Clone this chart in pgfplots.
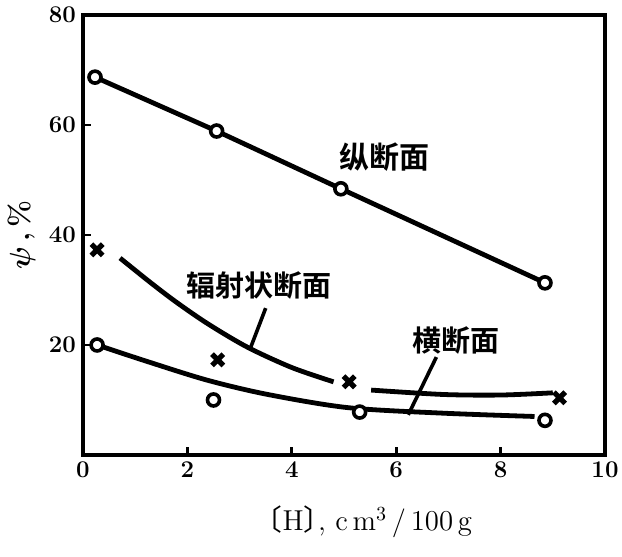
\documentclass[border=0pt]{standalone}
\usepackage{pgfplots}
\pgfplotsset{compat=1.18}
\usetikzlibrary{calc}
\usepackage{fontspec}
\newfontfamily\cjk{Noto Sans CJK SC Bold}
\newfontfamily\cjkr{Noto Sans CJK SC}
\begin{document}
\begin{tikzpicture}
\begin{axis}[
  scale only axis, width=261pt, height=220pt,
  xmin=0, xmax=10, ymin=0, ymax=80,
  xtick={0,2,4,6,8,10}, ytick={20,40,60,80},
  tick pos=left, tick align=inside, major tick length=4pt,
  axis line style={line width=1.8pt},
  tick style={line width=1.4pt, black},
  ticklabel style={font=\large\bfseries},
  /pgf/number format/assume math mode=true,
  xlabel={\makebox[0.5em][r]{\cjkr 〔}H\makebox[0.5em][l]{\cjkr 〕}, c\,m$^{3}$\,/\,100\,g},
  xlabel style={at={(axis description cs:0.55,-0.152)}, anchor=center, font=\Large},
  ylabel={{\boldmath$\psi$}\,,\,\%},
  ylabel style={at={(axis description cs:-0.117,0.5)}, anchor=center, font=\Large\bfseries},
  clip=false,
]
% 纵断面
\addplot[line width=2.4pt, mark=*, mark size=3pt, mark options={fill=white, line width=1.8pt}]
  coordinates {(0.23,68.7) (2.56,58.9) (4.94,48.4) (8.85,31.3)};
% 辐射状断面 points
\addplot[only marks, mark=x, mark size=4pt, mark options={line width=2.6pt}]
  coordinates {(0.27,37.3) (2.58,17.3) (5.1,13.3) (9.13,10.4)};
% 辐射状断面 curve
\addplot[line width=2.4pt, smooth] coordinates {(0.71,35.8) (1.3,31.3) (1.8,27.7) (2.4,23.8) (3.15,19.6) (4.0,15.9) (4.8,13.3)};
\addplot[line width=2.4pt, smooth] coordinates {(5.52,11.8) (6.9,11.0) (8.0,10.9) (9.0,11.3)};
% 横断面 points
\addplot[only marks, mark=*, mark size=3pt, mark options={fill=white, line width=1.8pt}]
  coordinates {(0.27,20.0) (2.5,10.0) (5.3,7.8) (8.85,6.3)};
% 横断面 curve
\addplot[line width=2.4pt, smooth] coordinates {(0.27,20.0) (1.23,17.0) (2.38,13.6) (3.54,11.0) (5.08,8.6) (6.9,7.6) (8.65,7.0)};
% leaders
\addplot[line width=1.8pt] coordinates {(3.5,26.7) (3.21,19.5)};
\addplot[line width=1.8pt] coordinates {(6.77,17.8) (6.23,7.3)};
% labels
\node[font=\cjk\fontsize{15}{15}\selectfont] at (axis cs:5.77,54.2) {纵断面};
\node[font=\cjk\fontsize{14.5}{15}\selectfont] at (axis cs:3.37,30.9) {辐射状断面};
\node[font=\cjk\fontsize{14.5}{15}\selectfont] at (axis cs:7.15,20.9) {横断面};
\coordinate (SW) at (rel axis cs:0,0);
\coordinate (NE) at (rel axis cs:1,1);
\end{axis}
\pgfresetboundingbox
\path ($(SW)+(-41.5pt,-51pt)$) rectangle ($(NE)+(8.5pt,7.5pt)$);
\end{tikzpicture}
\end{document}
